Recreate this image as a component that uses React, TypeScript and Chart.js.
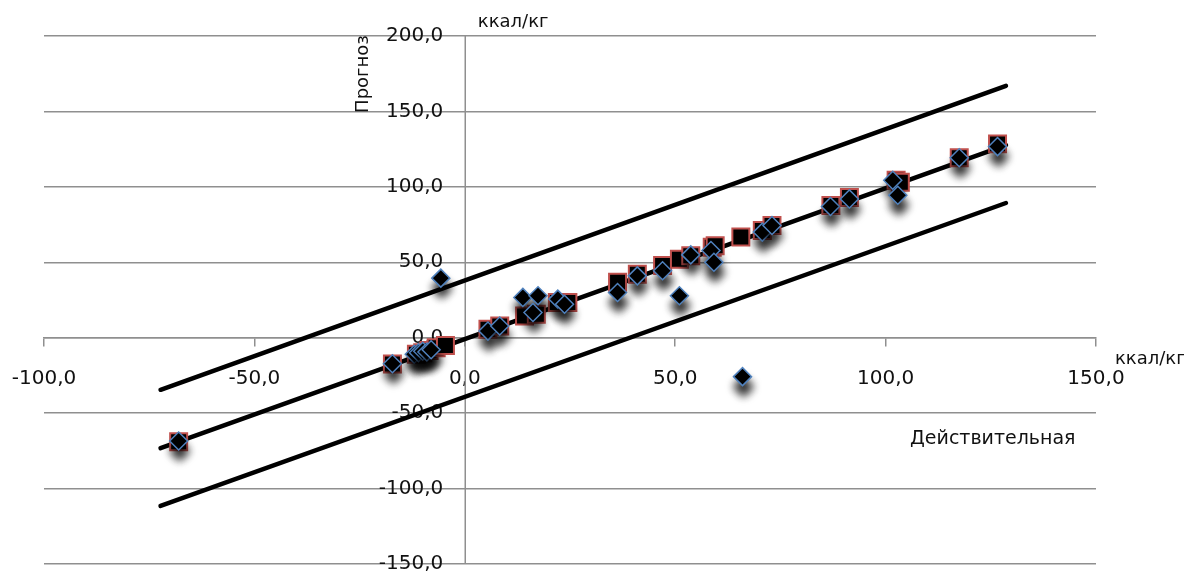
import React, { useEffect, useRef } from 'react';
import { Chart, registerables } from 'chart.js';

Chart.register(...registerables);

// Axis ranges / ticks
const xMin = -100;
const xMax = 150;
const yMin = -150;
const yMax = 200;
const tickStep = 50;

// Fitted values (squares, on the regression line)
const fittedX = [-68, -17.2, -11.5, -10, -8.5, -6.8, -4.6, 5.5, 8.3, 14.2, 17, 22, 24.5, 36.3, 41, 47, 51, 53.7, 58.8, 59.5, 65.6, 70.7, 73, 87, 91.4, 102.5, 103.5, 117.5, 126.6];
const fittedY = [-69, -17.4, -11, -10, -8.5, -6.6, -5.2, 5.6, 7.8, 14.4, 15.6, 23.3, 23.3, 36.7, 42, 47.8, 52, 54.4, 60, 61, 66.7, 71, 74.4, 87.7, 93, 104.4, 103, 119.3, 128.5];

// Actual values (diamonds)
const actualX = [-68, -17.2, -12, -11, -10, -9, -8, -5.7, 5.5, 8.3, 13.8, 17.4, 16.2, 22.1, 23.7, 36.3, 41, 47, 51, 53.7, 58.5, 59.2, 66, 70.7, 73, 86.9, 91.4, 101.7, 102.9, 117.5, 126.6];
const actualY = [-68.5, -17.3, -11, -10, -9, -9.5, -8, 39.5, 4.4, 7.8, 26.7, 27.8, 16.7, 25.6, 22.2, 30, 41, 44.4, 27.8, 54.9, 57.8, 50, -25.8, 70, 74.4, 87, 92, 104.4, 94.4, 119.3, 126.7];

// Regression line and confidence band lines (endpoints)
const lineX = [-72.3, 128.6];
const midLineY = [-73.2, 127.7];
const upperLineY = [-34.5, 167];
const lowerLineY = [-111.5, 89.3];

// Texts
const yUnit = 'ккал/кг';
const xUnit = 'ккал/кг';
const yTitle = 'Прогноз';
const xTitle = 'Действительная';

const toPts = (xs: number[], ys: number[]) => xs.map((x, i) => ({ x, y: ys[i] }));
const fmt = (v: number | string) => Number(v).toFixed(1).replace('.', ',');

const FONT = "'DejaVu Sans', sans-serif";
const GRID = '#8f8f8f';
const TEXT = '#111';

const noSpace = (dim: 'width' | 'height') => (s: any) => {
  s[dim] = 0;
  s.paddingLeft = 0;
  s.paddingRight = 0;
  s.paddingTop = 0;
  s.paddingBottom = 0;
};

export default function App() {
  const ref = useRef<HTMLCanvasElement | null>(null);

  useEffect(() => {
    document.body.style.margin = '0';
    document.body.style.overflow = 'hidden';
    const canvas = ref.current;
    if (!canvas) return;

    const shadowPlugin = {
      id: 'diamondShadow',
      beforeDatasetDraw(chart: any, args: any) {
        if (args.index === 0) {
          const ctx = chart.ctx;
          ctx.save();
          ctx.shadowColor = 'rgba(0,0,0,0.9)';
          ctx.shadowBlur = 9;
          ctx.shadowOffsetX = 1;
          ctx.shadowOffsetY = 10;
        }
      },
      afterDatasetDraw(chart: any, args: any) {
        if (args.index === 0) chart.ctx.restore();
      },
    };

    // y axis line and its tick labels, placed left of the crossing axis
    const yAxisPlugin = {
      id: 'yAxisCross',
      beforeDatasetsDraw(chart: any) {
        const ctx = chart.ctx;
        const xs = chart.scales.x;
        const ys = chart.scales.y;
        const x0 = Math.round(xs.getPixelForValue(0)) + 0.25;
        ctx.save();
        ctx.strokeStyle = GRID;
        ctx.lineWidth = 1.5;
        ctx.beginPath();
        ctx.moveTo(x0, ys.top);
        ctx.lineTo(x0, ys.bottom);
        ctx.stroke();
        ctx.fillStyle = TEXT;
        ctx.font = `20px ${FONT}`;
        ctx.textAlign = 'right';
        ctx.textBaseline = 'middle';
        ys.ticks.forEach((t: any) => {
          ctx.fillText(fmt(t.value), x0 - 22, ys.getPixelForValue(t.value));
        });
        ctx.restore();
      },
    };

    const textPlugin = {
      id: 'axisTexts',
      afterDraw(chart: any) {
        const ctx = chart.ctx;
        const xs = chart.scales.x;
        const ys = chart.scales.y;
        const x0 = xs.getPixelForValue(0);
        const y0 = ys.getPixelForValue(0);
        ctx.save();
        ctx.fillStyle = TEXT;
        ctx.textBaseline = 'middle';
        ctx.textAlign = 'left';
        ctx.font = `18px ${FONT}`;
        ctx.fillText(yUnit, x0 + 13, ys.top - 14);
        ctx.fillText(xUnit, xs.right + 19, y0 + 22);
        ctx.font = `19px ${FONT}`;
        ctx.fillText(xTitle, 910, y0 + 101);
        ctx.translate(x0 - 101, 74);
        ctx.rotate(-Math.PI / 2);
        ctx.textAlign = 'center';
        ctx.font = `18px ${FONT}`;
        ctx.fillText(yTitle, 0, 0);
        ctx.restore();
      },
    };

    const lineStyle = {
      type: 'line' as const,
      showLine: true,
      borderColor: '#000',
      backgroundColor: '#000',
      borderWidth: 4.5,
      borderCapStyle: 'round' as const,
      pointRadius: 0,
      fill: false,
      tension: 0,
    };

    const chart = new Chart(canvas, {
      type: 'scatter',
      data: {
        datasets: [
          {
            label: 'Actual',
            data: toPts(actualX, actualY),
            pointStyle: 'rectRot',
            pointRadius: 9,
            backgroundColor: '#000',
            borderColor: '#4f81bd',
            borderWidth: 1.5,
            order: 0,
          },
          {
            label: 'Fitted',
            data: toPts(fittedX, fittedY),
            pointStyle: 'rect',
            pointRadius: 12,
            backgroundColor: '#000',
            borderColor: '#c0504d',
            borderWidth: 2,
            order: 1,
          },
          { ...lineStyle, label: 'Mid', data: toPts(lineX, midLineY), order: 2 } as any,
          { ...lineStyle, label: 'Upper', data: toPts(lineX, upperLineY), order: 3 } as any,
          { ...lineStyle, label: 'Lower', data: toPts(lineX, lowerLineY), order: 4 } as any,
        ],
      },
      options: {
        animation: false,
        responsive: false,
        layout: { padding: { left: 44, right: 88, top: 36, bottom: 3 } },
        plugins: {
          legend: { display: false },
          tooltip: { enabled: false },
        },
        scales: {
          x: {
            type: 'linear',
            position: { y: 0 } as any,
            min: xMin,
            max: xMax,
            afterFit: noSpace('height'),
            grid: {
              drawOnChartArea: false,
              drawTicks: true,
              tickLength: 8,
              color: GRID,
              lineWidth: 1.5,
            },
            border: { display: true, color: GRID, width: 1.5 },
            ticks: {
              stepSize: tickStep,
              autoSkip: false,
              maxRotation: 0,
              padding: 21,
              color: TEXT,
              font: { family: FONT, size: 20 },
              callback: (v: any) => fmt(v),
            },
          },
          y: {
            type: 'linear',
            position: { x: 0 } as any,
            min: yMin,
            max: yMax,
            afterFit: noSpace('width'),
            grid: {
              drawOnChartArea: true,
              drawTicks: false,
              color: GRID,
              lineWidth: 1.5,
            },
            border: { display: false },
            ticks: {
              stepSize: tickStep,
              autoSkip: false,
              display: false,
            },
          },
        },
      },
      plugins: [shadowPlugin, yAxisPlugin, textPlugin],
    });

    return () => chart.destroy();
  }, []);

  return (
    <div style={{ width: 1184, height: 572, overflow: 'hidden', background: '#fff' }}>
      <canvas ref={ref} width={1184} height={578} style={{ display: 'block' }} />
    </div>
  );
}
